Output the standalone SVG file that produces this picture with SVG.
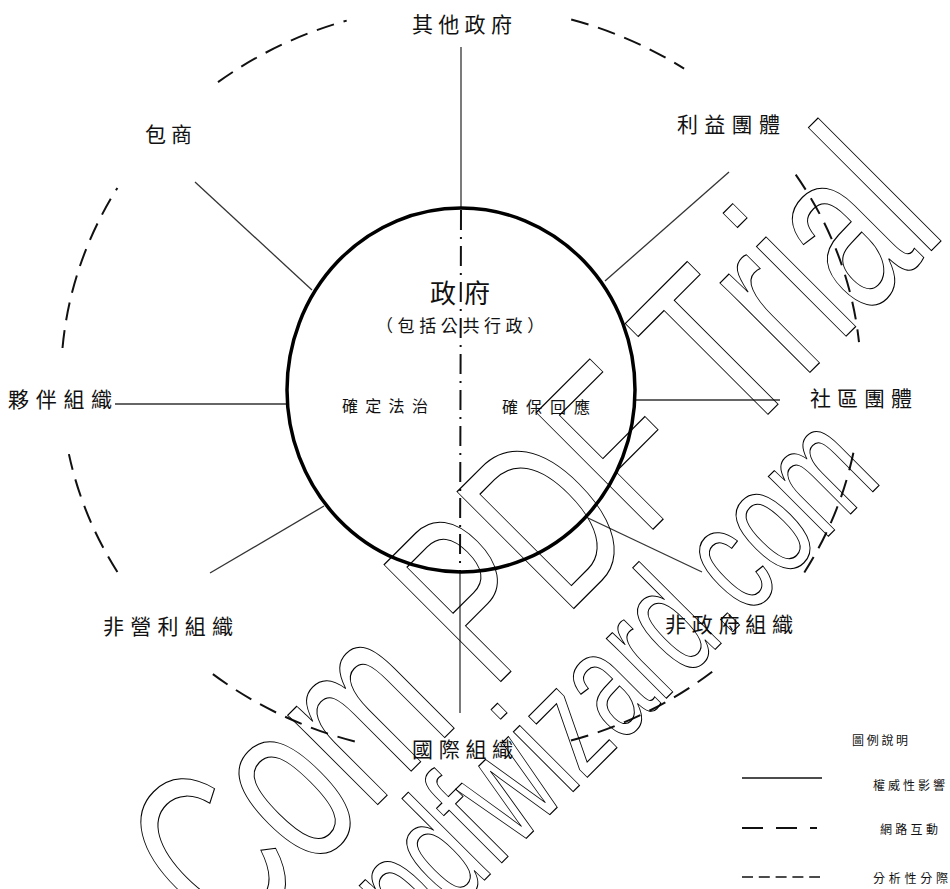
<svg xmlns="http://www.w3.org/2000/svg" width="950" height="889" viewBox="0 0 950 889">
<style>
.lbl{font-family:"Noto Sans CJK TC","Noto Sans CJK SC",sans-serif;fill:#111;}
.spoke{stroke:#333;stroke-width:1.3;fill:none}
.net{stroke:#111;stroke-width:2;fill:none;stroke-dasharray:18 10}
.ana{stroke:#111;stroke-width:2;fill:none;stroke-dasharray:20 7 2 7}
.leg{stroke:#111;fill:none}
.wm{font-family:"Liberation Sans",Arial,sans-serif;fill:none;stroke:#000;stroke-width:1;vector-effect:non-scaling-stroke}
</style>
<rect width="950" height="889" fill="#fff"/>

<g id="connectors">
  <line class="spoke" x1="461" y1="47" x2="461" y2="208"/>
  <line class="spoke" x1="195" y1="182" x2="312" y2="290"/>
  <line class="spoke" x1="729" y1="172" x2="605" y2="281"/>
  <line class="spoke" x1="115" y1="404" x2="287" y2="404"/>
  <line class="spoke" x1="636" y1="400" x2="780" y2="400"/>
  <line class="spoke" x1="210" y1="573" x2="324" y2="506"/>
  <line class="spoke" x1="588" y1="518" x2="702" y2="572"/>
  <line class="spoke" x1="460" y1="572" x2="460" y2="713"/>
  <line class="ana" x1="461" y1="210" x2="460" y2="572"/>
  <path class="net" d="M218,82.1 A400,375 0 0 1 346.7,20.6"/>
  <path class="net" d="M571.2,19.5 A400,375 0 0 1 684.1,68.7"/>
  <path class="net" d="M62.5,348 A400,375 0 0 1 117.4,188"/>
  <path class="net" d="M117.4,572 A400,375 0 0 1 68.9,454.1"/>
  <path class="net" d="M354.8,741.5 A400,375 0 0 1 209.8,671.8"/>
  <path class="net" d="M712.2,671.8 A400,375 0 0 1 567.2,741.5"/>
  <path class="net" d="M795.7,174.6 A400,375 0 0 1 859,342.1"/>
  <path class="net" d="M853.4,452.8 A400,375 0 0 1 804.2,572.6"/>
</g>

<g id="gov">
  <ellipse cx="461" cy="390" rx="174" ry="182" fill="none" stroke="#000" stroke-width="3.5"/>
  <text class="lbl" x="430" y="303" font-size="26" letter-spacing="8">政府</text>
  <text class="lbl" x="376" y="332" font-size="17" letter-spacing="4.6">（包括公共行政）</text>
  <text class="lbl" x="342" y="412" font-size="16" letter-spacing="7.3">確定法治</text>
  <text class="lbl" x="502" y="413" font-size="16" letter-spacing="8">確保回應</text>
</g>

<g id="n-other-gov"><text class="lbl" x="412" y="31.5" font-size="21" letter-spacing="5.3">其他政府</text></g>
<g id="n-contractor"><text class="lbl" x="145" y="141.5" font-size="21" letter-spacing="5">包商</text></g>
<g id="n-interest"><text class="lbl" x="677" y="131.5" font-size="21" letter-spacing="6.3">利益團體</text></g>
<g id="n-partner"><text class="lbl" x="8" y="406.5" font-size="21" letter-spacing="6.7">夥伴組織</text></g>
<g id="n-community"><text class="lbl" x="810" y="406" font-size="21" letter-spacing="6">社區團體</text></g>
<g id="n-npo"><text class="lbl" x="103" y="633.5" font-size="21" letter-spacing="6.25">非營利組織</text></g>
<g id="n-ngo"><text class="lbl" x="665" y="631.5" font-size="21" letter-spacing="5.75">非政府組織</text></g>
<g id="n-intl"><text class="lbl" x="412" y="756.5" font-size="21" letter-spacing="5.7">國際組織</text></g>

<g id="legend">
  <text class="lbl" x="852" y="745" font-size="12" letter-spacing="2.7">圖例說明</text>
  <line class="leg" x1="742" y1="778" x2="822" y2="778" stroke-width="1.5"/>
  <text class="lbl" x="873" y="790" font-size="12" letter-spacing="3">權威性影響</text>
  <line class="leg" x1="742" y1="828" x2="817" y2="828" stroke-width="2" stroke-dasharray="21 13"/>
  <text class="lbl" x="880" y="834" font-size="12" letter-spacing="3.3">網路互動</text>
  <line class="leg" x1="742" y1="877" x2="820" y2="877" stroke-width="1.5" stroke-dasharray="11 5.8"/>
  <text class="lbl" x="873" y="883" font-size="12" letter-spacing="3.75">分析性分際</text>
</g>

<g id="watermark">
  <text class="wm" font-size="240" transform="translate(229.8,952.4) rotate(-45) scale(0.646,1)">Com PDF Trial</text>
  <text class="wm" font-size="160" transform="translate(414.3,950.3) rotate(-45) scale(0.644,1)">pdfwizard.com</text>
</g>
</svg>
